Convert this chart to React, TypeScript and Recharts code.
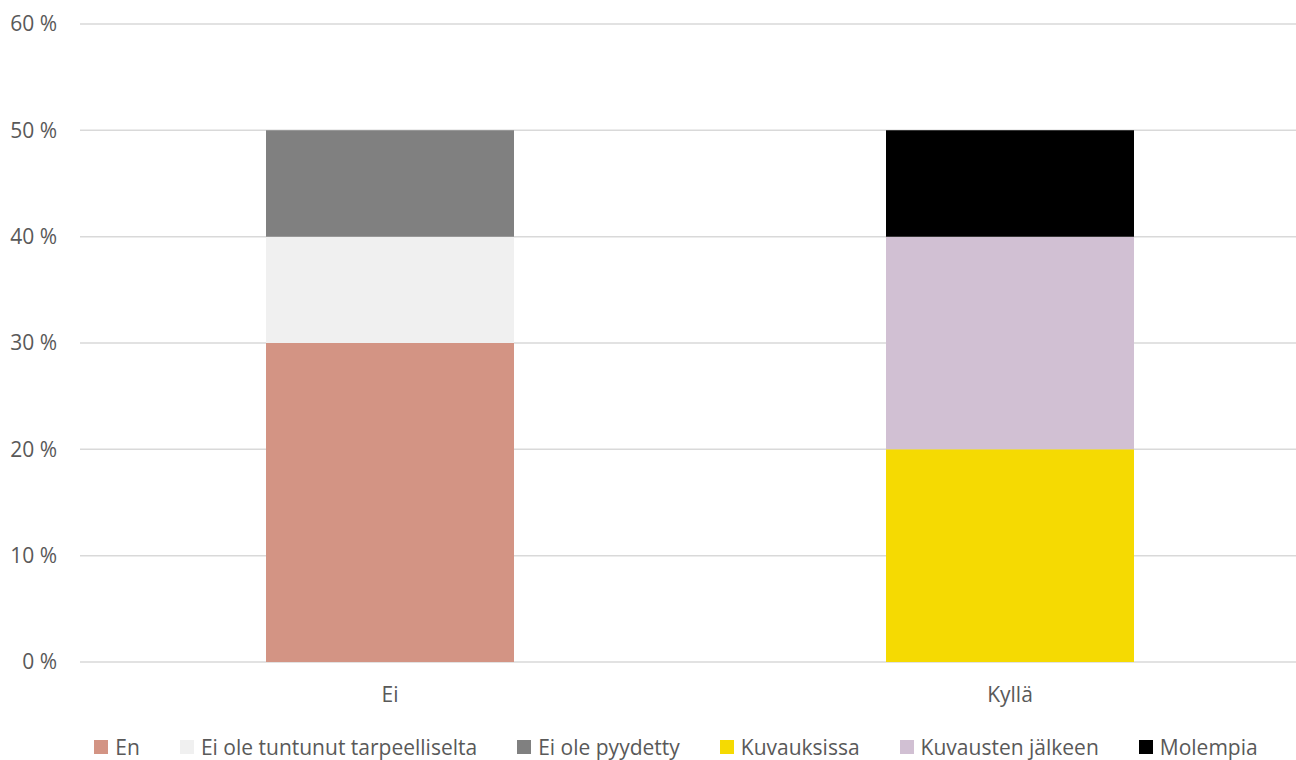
import { Bar, BarChart, CartesianGrid, Legend, XAxis, YAxis } from "recharts";

const CATEGORIES = ["Ei", "Kyllä"];

const EN = [30, 0];
const EI_TARPEELLINEN = [10, 0];
const EI_PYYDETTY = [10, 0];
const KUVAUKSISSA = [0, 20];
const KUVAUSTEN_JALKEEN = [0, 20];
const MOLEMPIA = [0, 10];

const Y_TICKS = [0, 10, 20, 30, 40, 50, 60];

const FONT = "'Open Sans', 'Noto Sans', sans-serif";
const TEXT = "#595959";
const FONT_SIZE = 21;

const SERIES = [
  { key: "en", name: "En", color: "#D39484", values: EN },
  { key: "eiTarp", name: "Ei ole tuntunut tarpeelliselta", color: "#F0F0F0", values: EI_TARPEELLINEN },
  { key: "eiPyyd", name: "Ei ole pyydetty", color: "#808080", values: EI_PYYDETTY },
  { key: "kuv", name: "Kuvauksissa", color: "#F5DA02", values: KUVAUKSISSA },
  { key: "kuvJalk", name: "Kuvausten jälkeen", color: "#D1C0D3", values: KUVAUSTEN_JALKEEN },
  { key: "mol", name: "Molempia", color: "#000000", values: MOLEMPIA },
];

const data = CATEGORIES.map((c, i) => {
  const row: Record<string, string | number> = { name: c };
  SERIES.forEach((s) => {
    row[s.key] = s.values[i];
  });
  return row;
});

// Excel-tyylinen selite: neliö + teksti, tasaiset välit
function ExcelLegend() {
  return (
    <div
      style={{
        height: 40,
        display: "flex",
        justifyContent: "center",
        alignItems: "center",
        paddingLeft: 32,
        paddingTop: 14,
        boxSizing: "border-box",
        fontFamily: FONT,
        fontSize: FONT_SIZE,
        color: TEXT,
        whiteSpace: "nowrap",
      }}
    >
      {SERIES.map((s, i) => (
        <span
          key={s.key}
          style={{
            display: "inline-flex",
            alignItems: "center",
            marginRight: i === SERIES.length - 1 ? 0 : 40,
          }}
        >
          <span
            style={{
              width: 14,
              height: 14,
              background: s.color,
              display: "inline-block",
              marginRight: 7,
            }}
          />
          {s.name}
        </span>
      ))}
    </div>
  );
}

export default function App() {
  return (
    <div
      style={{
        position: "absolute",
        left: 0,
        top: 0,
        width: 1296,
        height: 760,
        overflow: "hidden",
        background: "#fff",
      }}
    >
      <BarChart
        width={1320}
        height={760}
        data={data}
        margin={{ top: 24, right: 0, left: 0, bottom: 0 }}
        barCategoryGap="30%"
      >
        <CartesianGrid vertical={false} stroke="#D9D9D9" strokeWidth={1.5} />
        <XAxis
          dataKey="name"
          axisLine={false}
          tickLine={false}
          height={58}
          tickMargin={19}
          tick={{ fill: TEXT, fontSize: FONT_SIZE, fontFamily: FONT }}
        />
        <YAxis
          domain={[0, 60]}
          ticks={Y_TICKS}
          width={80}
          axisLine={false}
          tickLine={false}
          tickMargin={17}
          tickFormatter={(v: number) => `${v} %`}
          tick={{ fill: TEXT, fontSize: FONT_SIZE, fontFamily: FONT }}
        />
        <Legend verticalAlign="bottom" content={() => <ExcelLegend />} />
        {SERIES.map((s) => (
          <Bar
            key={s.key}
            dataKey={s.key}
            name={s.name}
            stackId="a"
            fill={s.color}
            isAnimationActive={false}
          />
        ))}
      </BarChart>
    </div>
  );
}
